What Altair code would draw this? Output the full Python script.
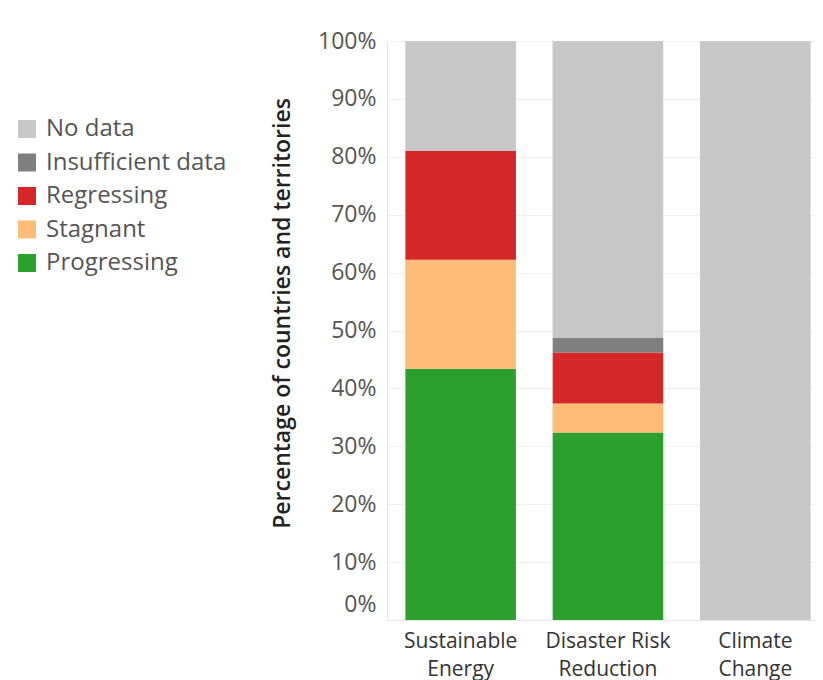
import altair as alt
import pandas as pd

categories = ["Sustainable Energy", "Disaster Risk Reduction", "Climate Change"]
statuses = ["No data", "Insufficient data", "Regressing", "Stagnant", "Progressing"]
colors = ["#c7c7c7", "#7f7f7f", "#d62728", "#ffbb78", "#2ca02c"]

# percentage of countries per status, per category
progressing = [43.4, 32.4, 0.0]
stagnant = [18.8, 5.0, 0.0]
regressing = [18.8, 8.8, 0.0]
insufficient = [0.0, 2.5, 0.0]
no_data = [19.0, 51.3, 100.0]

series = {
    "Progressing": progressing,
    "Stagnant": stagnant,
    "Regressing": regressing,
    "Insufficient data": insufficient,
    "No data": no_data,
}
stack_order = {"Progressing": 0, "Stagnant": 1, "Regressing": 2, "Insufficient data": 3, "No data": 4}

rows = []
for s, vals in series.items():
    for c, v in zip(categories, vals):
        rows.append({"category": c, "status": s, "value": v, "order": stack_order[s]})
df = pd.DataFrame(rows)

FONT = "Open Sans"

chart = alt.Chart(df).mark_bar().encode(
    x=alt.X(
        "category:N",
        sort=categories,
        scale=alt.Scale(range=[0, 442], paddingInner=0.25, paddingOuter=0.125),
        axis=alt.Axis(
            title=None,
            labelAngle=0,
            labelFont=FONT,
            labelFontSize=21,
            labelColor="#333333",
            labelPadding=10,
            labelLineHeight=28,
            labelExpr="datum.label == 'Disaster Risk Reduction' ? ['Disaster Risk', 'Reduction'] : split(datum.label, ' ')",
            ticks=False,
            domain=True,
            domainColor="#e6e6e6",
            grid=True,
            bandPosition=0,
            gridColor="#eeeeee",
        ),
    ),
    y=alt.Y(
        "value:Q",
        stack="zero",
        scale=alt.Scale(domain=[0, 100], nice=False),
        axis=alt.Axis(
            title="Percentage of countries and territories",
            titleFont=FONT,
            titleFontSize=23,
            titleFontWeight=600,
            titleColor="#222222",
            titleAngle=270,
            titleBaseline="bottom",
            titleX=-93,
            titleY=272,
            values=[0, 10, 20, 30, 40, 50, 60, 70, 80, 90, 100],
            labelExpr="datum.value + '%'",
            labelFont=FONT,
            labelFontSize=23,
            labelColor="#555555",
            labelPadding=11,
            labelOffset={"condition": {"test": "datum.value == 0", "value": -16}, "value": 0},
            ticks=False,
            domain=True,
            domainColor="#e6e6e6",
            gridColor="#f0f0f0",
        ),
    ),
    color=alt.Color(
        "status:N",
        scale=alt.Scale(domain=statuses, range=colors),
        legend=alt.Legend(
            title=None,
            orient="none",
            legendX=-372,
            legendY=76,
            symbolType="square",
            symbolSize=324,
            symbolStrokeWidth=0,
            symbolOpacity=1,
            labelFont=FONT,
            labelFontSize=24,
            labelColor="#555555",
            labelOffset=7,
            labelLimit=400,
            rowPadding=9.5,
        ),
    ),
    order=alt.Order("order:Q"),
).properties(
    width=428,
    height=579,
    autosize=alt.AutoSizeParams(type="none"),
    padding={"left": 379, "top": 33, "right": 0, "bottom": 60},
).configure_view(stroke=None)

chart.save("out.html", embed_options={"renderer": "svg", "actions": False})
